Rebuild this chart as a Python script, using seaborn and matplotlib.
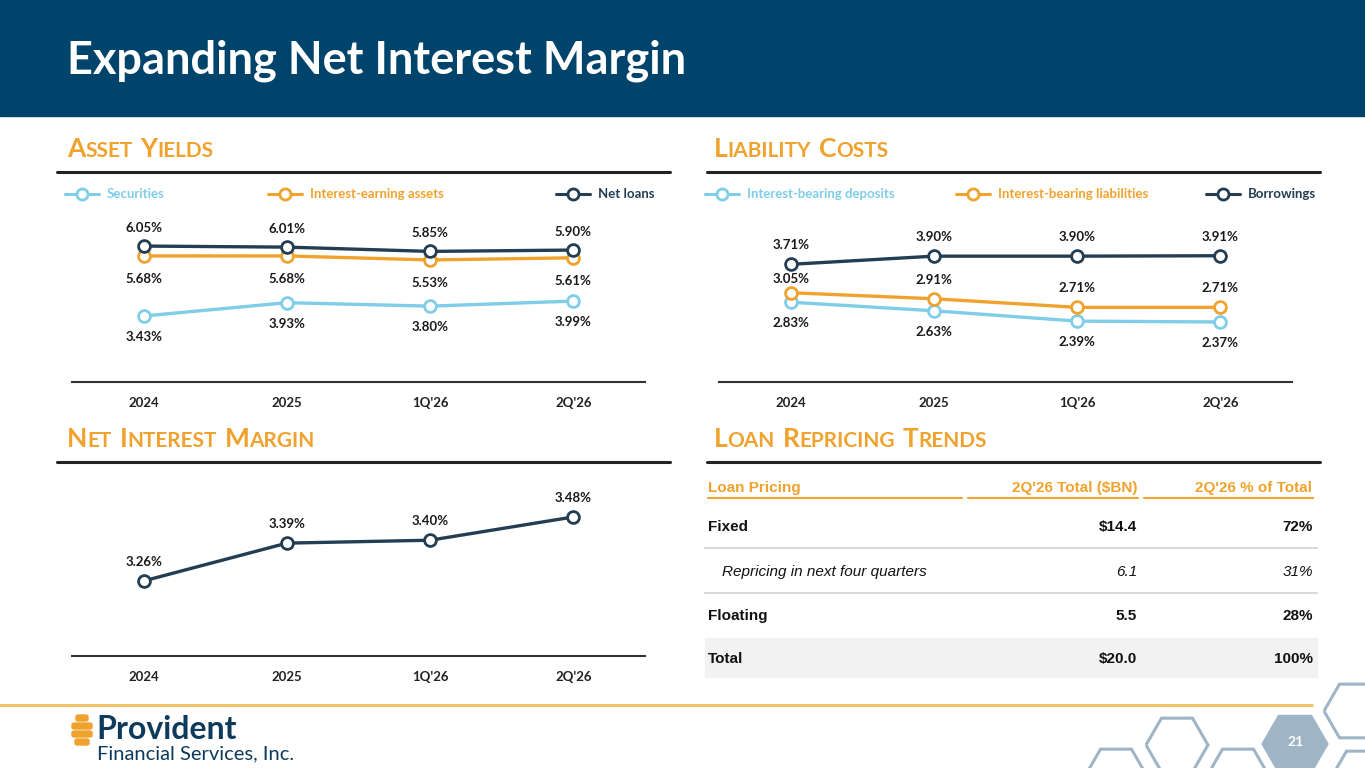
import numpy as np
import pandas as pd
import matplotlib
matplotlib.use("Agg")
import matplotlib.pyplot as plt
from matplotlib.lines import Line2D
from matplotlib.patches import Rectangle, Polygon, FancyBboxPatch
import seaborn as sns

# ---- data -------------------------------------------------------------
periods = ["2024", "2025", "1Q'26", "2Q'26"]

securities = [3.43, 3.93, 3.80, 3.99]
earning_assets = [5.68, 5.68, 5.53, 5.61]
net_loans = [6.05, 6.01, 5.85, 5.90]

ib_deposits = [2.83, 2.63, 2.39, 2.37]
ib_liabilities = [3.05, 2.91, 2.71, 2.71]
borrowings = [3.71, 3.90, 3.90, 3.91]

nim = [3.26, 3.39, 3.40, 3.48]

table_header = ["Loan Pricing", "2Q'26 Total ($BN)", "2Q'26 % of Total"]
table_rows = ["Fixed", "Repricing in next four quarters", "Floating", "Total"]
table_totals = ["$14.4", "6.1", "5.5", "$20.0"]
table_pcts = ["72%", "31%", "28%", "100%"]

# ---- style ------------------------------------------------------------
W, H = 1365, 768
NAVY = "#00446B"
ORANGE = "#F0A22E"
LBLUE = "#7FCDE9"
DARK = "#233D52"
HEX = "#9FB5C6"

sns.set_theme(style="white")
plt.rcParams["font.family"] = ["Lato", "DejaVu Sans"]


def fx(x):
    return x / W


def fy(y):
    return 1 - y / H


fig = plt.figure(figsize=(W / 100, H / 100), dpi=100)
fig.patch.set_facecolor("white")
renderer = fig.canvas.get_renderer()

# header band
fig.patches.append(Rectangle((0, fy(116)), 1, 116 / H, transform=fig.transFigure,
                             color=NAVY, zorder=0))
fig.text(fx(67), fy(61), "Expanding Net Interest Margin", color="white",
         fontsize=32.5, fontweight="bold", va="center", ha="left")


def small_caps(x, y, text, big=19, small=15):
    cur = fx(x)
    for wi, word in enumerate(text.split(" ")):
        if wi:
            t = fig.text(cur, fy(y), " ", fontsize=small, fontweight="bold")
            cur = fig.transFigure.inverted().transform(
                t.get_window_extent(renderer))[1][0] + 0.002
        for ci, part in enumerate([word[0], word[1:]]):
            if not part:
                continue
            t = fig.text(cur, fy(y), part.upper(), color=ORANGE,
                         fontsize=big if ci == 0 else small, fontweight="bold",
                         va="baseline", ha="left")
            cur = fig.transFigure.inverted().transform(
                t.get_window_extent(renderer))[1][0]


def rule(x0, x1, y, color="#222222", lw=2.2):
    fig.lines.append(Line2D([fx(x0), fx(x1)], [fy(y), fy(y)],
                            transform=fig.transFigure, color=color, lw=lw))


small_caps(67, 157, "Asset Yields")
small_caps(714, 157, "Liability Costs")
small_caps(67, 447, "Net Interest Margin")
small_caps(714, 447, "Loan Repricing Trends")
rule(57, 670, 172)
rule(707, 1320, 172)
rule(57, 670, 462)
rule(707, 1320, 462)


def legend(items, y=194):
    for (x0, label, color) in items:
        fig.lines.append(Line2D([fx(x0), fx(x0 + 34)], [fy(y), fy(y)],
                                transform=fig.transFigure, color=color, lw=2.2))
        fig.lines.append(Line2D([fx(x0 + 17)], [fy(y)], transform=fig.transFigure,
                                marker="o", ms=8, mfc="white", mec=color, mew=2))
        fig.text(fx(x0 + 42), fy(y), label, color=color, fontsize=9.5,
                 fontweight="bold", va="center", ha="left")


legend([(65, "Securities", LBLUE), (268, "Interest-earning assets", ORANGE),
        (556, "Net loans", DARK)])
legend([(705, "Interest-bearing deposits", LBLUE),
        (956, "Interest-bearing liabilities", ORANGE), (1206, "Borrowings", DARK)])


def make_ax(left, right, top, bottom, ylim):
    ax = fig.add_axes([fx(left), fy(bottom), (right - left) / W, (bottom - top) / H])
    ax.set_facecolor("none")
    ax.set_xlim(-0.5, 3.5)
    ax.set_ylim(*ylim)
    for s in ["top", "left", "right"]:
        ax.spines[s].set_visible(False)
    ax.spines["bottom"].set_color("#333333")
    ax.spines["bottom"].set_linewidth(1.5)
    ax.set_yticks([])
    ax.set_xticks(range(len(periods)))
    ax.set_xticklabels(periods, fontsize=9.5, fontweight="bold", color="#222222")
    ax.tick_params(axis="x", length=0, pad=11)
    return ax


def series(ax, values, color, offset):
    df = pd.DataFrame({"period": periods, "value": values})
    sns.lineplot(data=df, x="period", y="value", ax=ax, color=color, lw=2.4,
                 marker="o", ms=8.5, markerfacecolor="white", markeredgecolor=color,
                 markeredgewidth=2, sort=False, clip_on=False)
    offsets = offset if isinstance(offset, list) else [offset] * len(values)
    for i, v in enumerate(values):
        ax.annotate(f"{v:.2f}%", (i, v), xytext=(0, offsets[i]),
                    textcoords="offset pixels", ha="center", va="center",
                    fontsize=9.5, fontweight="bold", color="#1a1a1a")
    ax.set_xlabel("")
    ax.set_ylabel("")


ax1 = make_ax(72, 645, 210, 382, (0.96, 7.40))
series(ax1, securities, LBLUE, -21)
series(ax1, earning_assets, ORANGE, -23)
series(ax1, net_loans, DARK, 18)

ax2 = make_ax(719, 1292, 210, 382, (0.975, 4.973))
series(ax2, ib_deposits, LBLUE, -21)
series(ax2, ib_liabilities, ORANGE, [14, 19, 19, 19])
series(ax2, borrowings, DARK, 19)

ax3 = make_ax(72, 645, 480, 656, (3.002, 3.607))
series(ax3, nim, DARK, 19)

# ---- table ------------------------------------------------------------
tfont = ["Liberation Sans", "DejaVu Sans"]
head_x = [(708, "left"), (1137, "right"), (1312, "right")]
for label, (hx, ha) in zip(table_header, head_x):
    fig.text(fx(hx), fy(488), label, color=ORANGE, fontsize=11, fontweight="bold",
             family=tfont, va="center", ha=ha)
rule(708, 962, 498, ORANGE, 1.5)
rule(968, 1138, 498, ORANGE, 1.5)
rule(1144, 1313, 498, ORANGE, 1.5)

fig.patches.append(Rectangle((fx(705), fy(677)), (1317 - 705) / W, 39 / H,
                             transform=fig.transFigure, color="#F2F2F2", zorder=0))
row_y = [527, 572, 616, 659]
for i, (name, tot, pct) in enumerate(zip(table_rows, table_totals, table_pcts)):
    italic = i == 1
    kw = dict(fontsize=11, family=tfont, va="center", color="#111111",
              fontweight="normal" if italic else "bold",
              fontstyle="italic" if italic else "normal")
    fig.text(fx(722 if italic else 708), fy(row_y[i]), name, ha="left", **kw)
    fig.text(fx(1137), fy(row_y[i]), tot, ha="right", **kw)
    fig.text(fx(1313), fy(row_y[i]), pct, ha="right", **kw)
rule(705, 1317, 548, "#D9D9D9", 1.5)
rule(705, 1317, 593, "#D9D9D9", 1.5)

# ---- footer -----------------------------------------------------------
rule(0, 1312, 705, "#F2BF5E", 2)

for (yy, half) in [(718, 6), (726, 10), (734, 10), (742, 7)]:
    fig.patches.append(FancyBboxPatch((fx(82 - half), fy(yy + 3)), 2 * half / W, 6 / H,
                                      boxstyle="round,pad=0,rounding_size=0.002",
                                      transform=fig.transFigure, color=ORANGE))
fig.text(fx(96), fy(739), "Provident", color="#0E3A5C", fontsize=23,
         fontweight="bold", ha="left", va="baseline")
fig.text(fx(97), fy(759), "Financial Services, Inc.", color="#0E3A5C", fontsize=14.5,
         ha="left", va="baseline")


def hexagon(cx, cy, r=31, filled=False):
    h = r * np.sqrt(3) / 2
    pts = [(cx - r, cy), (cx - r / 2, cy - h), (cx + r / 2, cy - h),
           (cx + r, cy), (cx + r / 2, cy + h), (cx - r / 2, cy + h)]
    pts = [(fx(px), fy(py)) for px, py in pts]
    fig.patches.append(Polygon(pts, closed=True, transform=fig.transFigure,
                               facecolor=HEX if filled else "none",
                               edgecolor=HEX, lw=2.2))


hexagon(1355, 711)
hexagon(1177, 745)
hexagon(1116, 776)
hexagon(1238, 776)
hexagon(1362, 778)
hexagon(1295, 744, r=32, filled=True)
fig.text(fx(1296), fy(742), "21", color="white", fontsize=10, fontweight="bold",
         ha="center", va="center")

fig.savefig("out.png", dpi=100)
